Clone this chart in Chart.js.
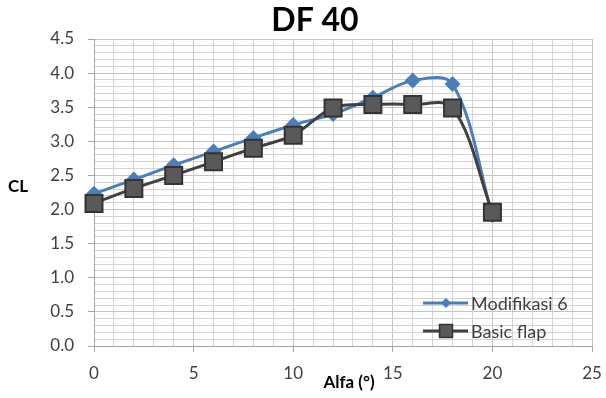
<!DOCTYPE html>
<html>
<head>
<meta charset="utf-8">
<script src="https://cdn.jsdelivr.net/npm/chart.js@4.4.1/dist/chart.umd.min.js"></script>
<style>
html,body{margin:0;padding:0;background:#fff;}
#wrap{width:606px;height:398px;position:relative;}
</style>
</head>
<body>
<div id="wrap"><canvas id="c" width="606" height="398"></canvas></div>
<script>
const chartTitle = "DF 40";
const xTitle = "Alfa (°)";
const yTitle = "CL";
const alpha = [0, 2, 4, 6, 8, 10, 12, 14, 16, 18, 20];
const clModifikasi = [2.23, 2.44, 2.65, 2.85, 3.05, 3.24, 3.40, 3.64, 3.89, 3.84, 1.92];
const clBasic = [2.09, 2.31, 2.50, 2.70, 2.90, 3.09, 3.49, 3.54, 3.54, 3.49, 1.96];
const seriesNames = ["Modifikasi 6", "Basic flap"];
const xMin = 0, xMax = 25, xStep = 1, xLabelEvery = 5;
const yMin = 0, yMax = 4.5, yStep = 0.1, yLabelEvery = 0.5;

const BLUE = "#4A7EBB";
const DARK = "#404040";
const MFILL = "#595959";

const toPts = (xs, ys) => xs.map((x, i) => ({x: x, y: ys[i]}));

function isMajorY(v){ const r = v / yLabelEvery; return Math.abs(r - Math.round(r)) < 1e-6; }
function isMajorX(v){ const r = v / xLabelEvery; return Math.abs(r - Math.round(r)) < 1e-6; }

const textPlugin = {
  id: "texts",
  afterDraw(chart){
    const ctx = chart.ctx;
    ctx.save();
    ctx.fillStyle = "#000";
    ctx.textAlign = "center";
    ctx.textBaseline = "alphabetic";
    ctx.font = "bold 32px Lato";
    ctx.fillText(chartTitle, 315, 31);
    ctx.font = "bold 17px Lato";
    ctx.fillText(yTitle, 18, 192);
    ctx.fillText(xTitle, 349, 388);
    // legend
    const ds = chart.data.datasets;
    const rows = [{i:0, y:303}, {i:1, y:331}];
    ctx.font = "18px Lato";
    ctx.textAlign = "left";
    ctx.textBaseline = "middle";
    rows.forEach(r => {
      const d = ds.find(q => q.label === seriesNames[r.i]);
      ctx.strokeStyle = d.borderColor;
      ctx.lineWidth = 3;
      ctx.beginPath(); ctx.moveTo(423, r.y); ctx.lineTo(468, r.y); ctx.stroke();
      if (d.pointStyle === "rectRot"){
        ctx.fillStyle = d.pointBackgroundColor;
        ctx.beginPath();
        ctx.moveTo(446, r.y - 5); ctx.lineTo(451, r.y); ctx.lineTo(446, r.y + 5); ctx.lineTo(441, r.y);
        ctx.closePath(); ctx.fill();
      } else {
        ctx.fillStyle = d.pointBackgroundColor;
        ctx.strokeStyle = d.pointBorderColor;
        ctx.lineWidth = 1.5;
        ctx.fillRect(439.5, r.y - 6.5, 13, 13);
        ctx.strokeRect(439.5, r.y - 6.5, 13, 13);
      }
      ctx.fillStyle = "#404040";
      ctx.fillText(seriesNames[r.i], 471, r.y + 1);
    });
    ctx.restore();
  }
};

new Chart(document.getElementById("c"), {
  type: "line",
  data: {
    datasets: [
      {
        label: seriesNames[0],
        data: toPts(alpha, clModifikasi),
        borderColor: BLUE,
        backgroundColor: BLUE,
        borderWidth: 3,
        pointStyle: "rectRot",
        pointRadius: 8,
        pointBackgroundColor: BLUE,
        pointBorderColor: BLUE,
        pointBorderWidth: 0,
        tension: 0.35,
        order: 2,
        clip: false
      },
      {
        label: seriesNames[1],
        data: toPts(alpha, clBasic),
        borderColor: DARK,
        backgroundColor: MFILL,
        borderWidth: 3,
        pointStyle: "rect",
        pointRadius: 12,
        pointBackgroundColor: MFILL,
        pointBorderColor: "#333333",
        pointBorderWidth: 2,
        tension: 0.35,
        order: 1,
        clip: false
      }
    ]
  },
  options: {
    responsive: false,
    animation: false,
    events: [],
    layout: { padding: { left: 0, right: 12, top: 39, bottom: 0 } },
    plugins: { legend: { display: false }, title: { display: false }, tooltip: { enabled: false } },
    scales: {
      x: {
        type: "linear",
        min: xMin, max: xMax,
        afterFit(s){ s.height = 52; s.paddingRight = 0; s.paddingLeft = 0; },
        ticks: {
          stepSize: xStep,
          autoSkip: false,
          maxRotation: 0,
          padding: 11,
          color: "#404040",
          font: { family: "Lato", size: 17 },
          callback: v => isMajorX(v) ? String(Math.round(v)) : ""
        },
        grid: {
          color: c => (c.tick && isMajorX(c.tick.value)) ? "#c4c4c4" : "#d4d4d4",
          lineWidth: 1,
          tickLength: 6,
          tickColor: c => (c.tick && isMajorX(c.tick.value)) ? "#a6a6a6" : "rgba(0,0,0,0)"
        },
        border: { color: "#a6a6a6", width: 1 }
      },
      y: {
        min: yMin, max: yMax,
        afterFit(s){ s.width = 94; s.paddingTop = 0; s.paddingBottom = 0; },
        ticks: {
          stepSize: yStep,
          autoSkip: false,
          padding: 14,
          color: "#404040",
          font: { family: "Lato", size: 17 },
          callback: v => isMajorY(v) ? v.toFixed(1) : ""
        },
        grid: {
          color: c => (c.tick && isMajorY(c.tick.value)) ? "#c4c4c4" : "#d4d4d4",
          lineWidth: 1,
          tickLength: 6,
          tickColor: c => (c.tick && isMajorY(c.tick.value)) ? "#a6a6a6" : "rgba(0,0,0,0)"
        },
        border: { color: "#a6a6a6", width: 1 }
      }
    }
  },
  plugins: [textPlugin]
});
</script>
</body>
</html>
